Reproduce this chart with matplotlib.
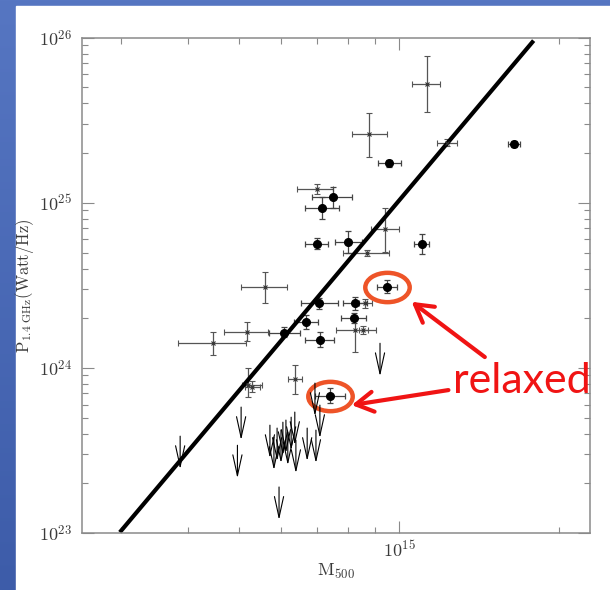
import numpy as np
import matplotlib.pyplot as plt
import matplotlib.ticker as mtick
from matplotlib.colors import LinearSegmentedColormap
from matplotlib.patches import Rectangle
from matplotlib.path import Path
from matplotlib.transforms import Affine2D
from matplotlib.text import OffsetFrom
from matplotlib.patches import ArrowStyle

plt.rcParams['mathtext.fontset'] = 'cm'

# masses in units of 1e14 Msun, radio powers in units of 1e24 W/Hz
# detections drawn with a small cross
cross_m = np.array([11.26, 8.78, 12.31, 6.99, 9.40, 8.68, 5.59, 8.62, 5.16, 4.46, 8.25, 8.56, 6.36, 5.19, 5.29])
cross_m_lo = np.array([10.55, 8.16, 11.76, 6.43, 8.83, 7.85, 5.04, 8.41, 4.67, 3.84, 7.60, 8.40, 6.18, 5.05, 5.13])
cross_m_hi = np.array([11.93, 9.49, 12.82, 7.51, 9.99, 9.58, 6.14, 8.87, 5.67, 5.14, 9.04, 8.73, 6.55, 5.51, 5.47])
cross_p = np.array([52.5, 26.0, 23.1, 12.12, 6.91, 4.98, 3.07, 2.46, 1.655, 1.42, 1.695, 1.695, 0.852, 0.787, 0.768])
cross_p_lo = np.array([35.5, 19.0, 22.0, 11.3, 5.05, 4.78, 2.46, 2.32, 1.46, 1.196, 1.247, 1.60, 0.694, 0.668, 0.713])
cross_p_hi = np.array([77.6, 35.2, 24.3, 13.0, 9.26, 5.19, 3.82, 2.61, 1.90, 1.655, 2.00, 1.79, 1.04, 0.993, 0.832])

# detections drawn with a filled dot
dot_m = np.array([9.58, 16.44, 7.49, 7.16, 6.99, 8.01, 11.02, 9.49, 7.07, 8.25, 6.69, 8.22, 6.08, 7.10, 7.41])
dot_m_lo = np.array([9.11, 16.04, 6.86, 6.65, 6.65, 7.57, 10.66, 9.09, 6.52, 7.82, 6.34, 7.77, 5.68, 6.65, 6.94])
dot_m_hi = np.array([10.07, 16.87, 8.16, 7.71, 7.35, 8.50, 11.39, 9.91, 7.68, 8.71, 7.04, 8.66, 6.50, 7.54, 7.90])
dot_p = np.array([17.35, 22.81, 10.77, 9.34, 5.63, 5.76, 5.63, 3.10, 2.46, 2.48, 1.90, 1.995, 1.63, 1.48, 0.678])
dot_p_lo = np.array([16.57, 21.9, 9.26, 7.94, 5.23, 4.98, 4.90, 2.83, 2.26, 2.24, 1.71, 1.86, 1.54, 1.34, 0.614])
dot_p_hi = np.array([18.17, 23.8, 12.52, 10.89, 6.09, 6.78, 6.47, 3.40, 2.64, 2.70, 2.09, 2.14, 1.76, 1.65, 0.751])

# relaxed clusters among the dots
relaxed_idx = [7, 14]

# upper limits
ul_m = np.array([3.87, 5.04, 4.96, 5.71, 5.81, 5.89, 5.99, 6.04, 6.12, 6.17, 6.26, 6.36, 6.39, 6.71, 6.97, 7.09, 6.94, 5.94, 9.20])
ul_p = np.array([0.386, 0.579, 0.340, 0.450, 0.381, 0.432, 0.420, 0.469, 0.483, 0.408, 0.503, 0.540, 0.365, 0.432, 0.420, 0.595, 0.809, 0.190, 1.41])

# best-fit correlation
fit_m = np.array([2.98, 17.9])
fit_p = np.array([0.101, 96.0])

M_UNIT, P_UNIT = 1e14, 1e24

fig = plt.figure(figsize=(6.1, 5.9), dpi=100)

# slide background
bg = fig.add_axes([0, 0, 1, 1], zorder=-10)
slide = LinearSegmentedColormap.from_list('slide', ['#5676c2', '#3d5ca9'])
bg.imshow(np.linspace(0, 1, 256).reshape(-1, 1), aspect='auto', cmap=slide,
          extent=[0, 1, 0, 1], origin='upper')
bg.add_patch(Rectangle((16 / 610, 0), 1, 1 - 6 / 590, color='white'))
bg.set_xlim(0, 1)
bg.set_ylim(0, 1)
bg.set_axis_off()

ax = fig.add_axes([0.1339, 0.0966, 0.8333, 0.8395])
ax.set_xscale('log')
ax.set_yscale('log')

ax.errorbar(cross_m * M_UNIT, cross_p * P_UNIT,
            xerr=[(cross_m - cross_m_lo) * M_UNIT, (cross_m_hi - cross_m) * M_UNIT],
            yerr=[(cross_p - cross_p_lo) * P_UNIT, (cross_p_hi - cross_p) * P_UNIT],
            fmt='x', ms=3, mew=0.8, color='#333333', ecolor='#555555',
            elinewidth=0.9, capsize=2, capthick=0.9)
ax.errorbar(dot_m * M_UNIT, dot_p * P_UNIT,
            xerr=[(dot_m - dot_m_lo) * M_UNIT, (dot_m_hi - dot_m) * M_UNIT],
            yerr=[(dot_p - dot_p_lo) * P_UNIT, (dot_p_hi - dot_p) * P_UNIT],
            fmt='o', ms=5.5, color='black', ecolor='#444444',
            elinewidth=0.9, capsize=2, capthick=0.9)

# upper limits: arrow from the limit down by 0.2 dex
ul_style = ArrowStyle('->', head_length=1.5, head_width=0.33)
for m, p in zip(ul_m, ul_p):
    ax.annotate('', xy=(m * M_UNIT, p * P_UNIT * 10 ** -0.2), xytext=(m * M_UNIT, p * P_UNIT),
                arrowprops=dict(arrowstyle=ul_style, mutation_scale=10, color='black',
                                lw=0.8, shrinkA=0, shrinkB=0))

ax.plot(fit_m * M_UNIT, fit_p * P_UNIT, color='black', lw=3, solid_capstyle='butt')

ax.set_xlim(2.526e14, 2.285e15)
ax.set_ylim(1e23, 1e26)

# highlight the relaxed clusters
ell = Path.unit_circle().transformed(Affine2D().scale(1, 0.66))
rel_m = dot_m[relaxed_idx] * M_UNIT
rel_p = dot_p[relaxed_idx] * P_UNIT
ax.plot(rel_m, rel_p, ls='none', marker=ell, ms=32, mfc='none', mec='#ee5428', mew=3.2)

red_style = ArrowStyle('->', head_length=1.25, head_width=0.72)
arrow_ends = [((17.6, -10.8), (70.3, -50.6)), ((15.6, -6.7), (85.2, 4.1))]
for (m, p), (head, tail) in zip(zip(rel_m, rel_p), arrow_ends):
    ref = OffsetFrom(ax.transData, (m, p), unit='points')
    ax.annotate('', xy=head, xycoords=ref, xytext=tail, textcoords=ref,
                arrowprops=dict(arrowstyle=red_style, mutation_scale=10, color='#f01414',
                                lw=3, shrinkA=0, shrinkB=0))
ax.text(0.73, 0.283, 'relaxed', transform=ax.transAxes, ha='left', va='baseline',
        fontsize=31, family='Lato', color='#f01414')

# axes cosmetics
for s in ax.spines.values():
    s.set_color('#8a8a8a')
    s.set_linewidth(1.1)
ax.tick_params(which='both', direction='in', top=True, right=True, color='#8a8a8a',
               width=0.8, labelsize=13, labelcolor='#3a3a3a')
ax.tick_params(which='major', length=8.6)
ax.tick_params(which='minor', length=4.5)
ax.tick_params(axis='y', pad=7)
ax.tick_params(axis='x', pad=5)
sci = mtick.FuncFormatter(lambda v, pos: r'$10^{%d}$' % round(np.log10(v)))
ax.xaxis.set_major_formatter(sci)
ax.yaxis.set_major_formatter(sci)
ax.xaxis.set_minor_formatter(mtick.NullFormatter())
ax.yaxis.set_minor_formatter(mtick.NullFormatter())

ax.set_xlabel(r'$\mathrm{M_{500}}$', fontsize=13, color='#3a3a3a')
ax.set_ylabel(r'$\mathrm{P_{1.4\ GHz}(Watt/Hz)}$', fontsize=12, color='#3a3a3a')
ax.xaxis.set_label_coords(0.5, -0.058)
ax.yaxis.set_label_coords(-0.089, 0.5)

fig.savefig('out.png', dpi=100)
